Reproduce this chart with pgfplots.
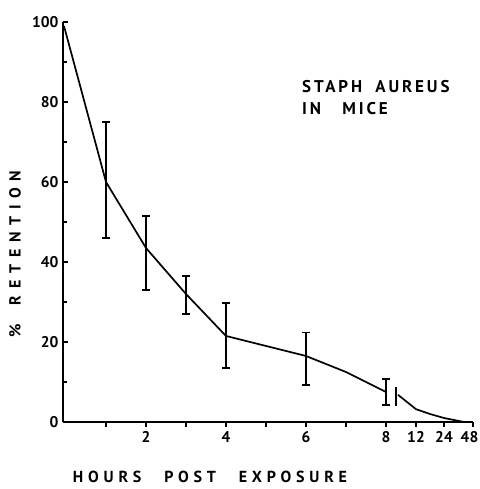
\documentclass[border=0pt]{standalone}
\usepackage{fontspec}
\setmainfont{PT Sans}
\usepackage{pgfplots}
\pgfplotsset{compat=1.18}
\begin{document}
\begin{tikzpicture}[x=1bp,y=1bp]
\path[use as bounding box] (-63bp,-67bp) rectangle (417bp,422bp);
\begin{axis}[
  at={(0,0)}, anchor=south west,
  scale only axis, width=410bp, height=400bp,
  xmin=-0.075, xmax=10.175, ymin=0, ymax=100,
  axis lines=left, axis line style={line width=2bp, -},
  xtick={1,2,3,4,5,6,7,8,8.75,9.45,10.175},
  xticklabels={,2,,4,,6,,8,12,24,48\kern7bp},
  ytick={0,20,40,60,80,100},
  minor ytick={10,30,50,70,90},
  xtick align=outside, ytick align=inside,
  major tick length=5bp, minor tick length=4bp,
  tick style={line width=1.3bp, black},
  /pgf/number format/assume math mode=true,
  ticklabel style={font=\fontsize{15.5bp}{16bp}\selectfont\bfseries},
  yticklabel style={xshift=-1bp},
  xticklabel style={yshift=-1bp},
  clip=false,
]
\addplot[line width=1.7bp, black] coordinates {
 (-0.05,99) (1,60) (2,43.5) (3,32) (4,21.5) (6,16.5) (7,12.5) (8,7.5)
};
\addplot[line width=1.7bp, black] coordinates {
 (8.3,6.8) (8.75,3.2) (9.1,2.0) (9.45,1.0) (9.95,0)
};
\addplot[line width=1.7bp, black] coordinates {(8.25,4) (8.25,8.75)};
\addplot[draw=none, mark=none, error bars/.cd, y dir=both, y explicit,
  error bar style={line width=1.4bp, black},
  error mark options={line width=1.4bp, black, mark size=4bp, rotate=90}]
 coordinates {
 (1,60) += (0,15) -= (0,14)
 (2,43.5) += (0,8) -= (0,10.5)
 (3,32) += (0,4.5) -= (0,5)
 (4,21.5) += (0,8.2) -= (0,8)
 (6,16.5) += (0,5.8) -= (0,7.3)
 (8,7.5) += (0,3.25) -= (0,3.25)
};
\end{axis}
\node[anchor=west, align=left, inner sep=0pt, font=\fontsize{17bp}{22bp}\selectfont\bfseries\addfontfeatures{LetterSpace=17}]
  at (239bp,324bp) {STAPH\hspace{6bp} AUREUS\\IN\hspace{14bp} MICE};
\node[anchor=center, inner sep=0pt, font=\fontsize{16bp}{16bp}\selectfont\bfseries\addfontfeatures{LetterSpace=30}]
  at (147bp,-55bp) {HOURS\hspace{14bp} POST\hspace{14bp} EXPOSURE};
\node[anchor=center, inner sep=0pt, rotate=90, font=\fontsize{16bp}{16bp}\selectfont\bfseries\addfontfeatures{LetterSpace=42}]
  at (-48bp,168bp) {\%\hspace{8bp} RETENTION};
\end{tikzpicture}
\end{document}
